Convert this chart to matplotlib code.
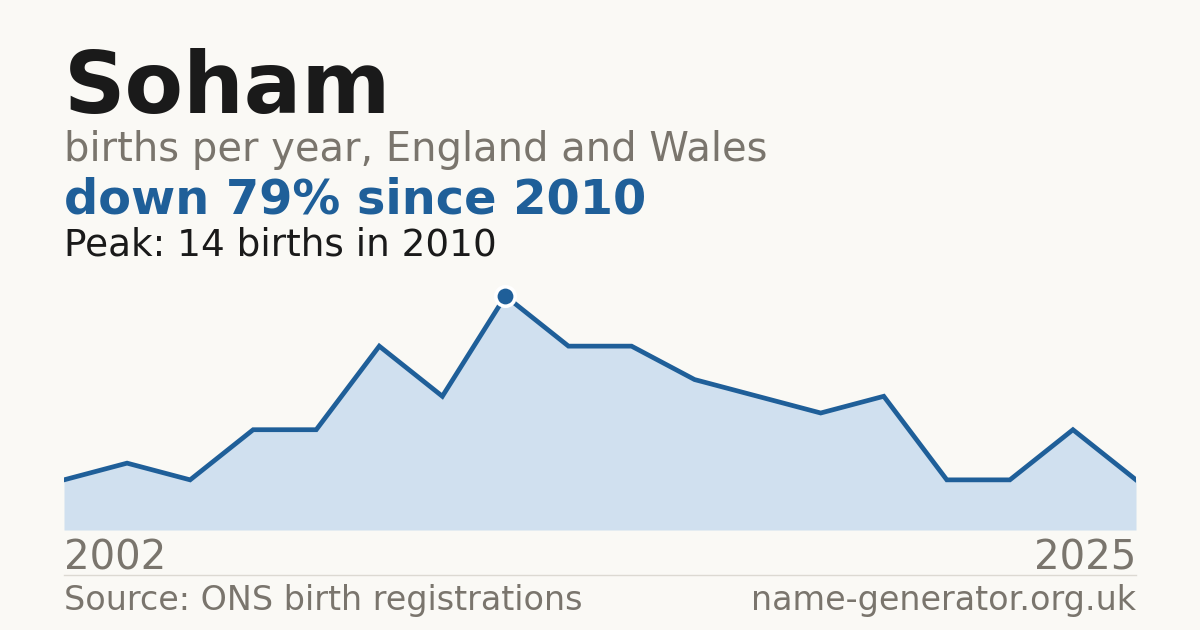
import numpy as np
import matplotlib
matplotlib.use("Agg")
from matplotlib import pyplot as plt

# births per year in Soham (ONS), only years with data
years = [2002, 2003, 2004, 2005, 2006, 2007, 2008, 2010, 2011, 2012,
         2014, 2015, 2016, 2017, 2019, 2020, 2022, 2025]
births = [3, 4, 3, 6, 6, 11, 8, 14, 11, 11, 9, 8, 7, 8, 3, 3, 6, 3]

title = "Soham"
subtitle = "births per year, England and Wales"
change = "down 79% since 2010"
peak_txt = "Peak: 14 births in 2010"
source = "Source: ONS birth registrations"
site = "name-generator.org.uk"

bg = "#faf9f5"
blue = "#1f5f99"
fillc = "#d0e0ef"
grey = "#7a756d"
dark = "#1a1a1a"

W, H = 1200, 630
fig = plt.figure(figsize=(W/100, H/100), dpi=100, facecolor=bg)

def fy(y):
    return 1 - y/H

def fx(x):
    return x/W

# plot area: x 64..1136, zero at y=530, peak (14) at y=296
top = 276
ax = fig.add_axes([fx(64), fy(530), (1136-64)/W, (530-top)/H])
ax.set_facecolor("none")
xi = np.arange(len(births))
ax.fill_between(xi, births, 0, color=fillc, lw=0)
ax.plot(xi, births, color=blue, lw=3.4, solid_joinstyle="miter")
ipk = int(np.argmax(births))
ax.plot(xi[ipk], births[ipk], "o", ms=14, color=blue, mec="white", mew=2.6, zorder=5)
ax.set_xlim(0, len(births)-1)
ax.set_ylim(0, max(births)*(530-top)/(530-296))
ax.axis("off")

# texts
fig.text(fx(64), fy(113), title, fontsize=61.5, fontweight="bold", color=dark, va="baseline")
fig.text(fx(64), fy(161), subtitle, fontsize=28.8, color=grey, va="baseline")
fig.text(fx(64), fy(214), change, fontsize=34.5, fontweight="bold", color=blue, va="baseline")
fig.text(fx(64), fy(255), peak_txt, fontsize=26.9, color=dark, va="baseline")

fig.text(fx(64), fy(570), str(years[0]), fontsize=29, color=grey, va="baseline")
fig.text(fx(1136), fy(570), str(years[-1]), fontsize=29, color=grey, va="baseline", ha="right")

fig.add_artist(plt.Line2D([fx(64), fx(1136)], [fy(574.5), fy(574.5)], color="#dcd9d2", lw=1))

fig.text(fx(64), fy(610), source, fontsize=24, color=grey, va="baseline")
fig.text(fx(1136), fy(610), site, fontsize=24, color=grey, va="baseline", ha="right")

fig.savefig("out.png", dpi=100, facecolor=bg)
